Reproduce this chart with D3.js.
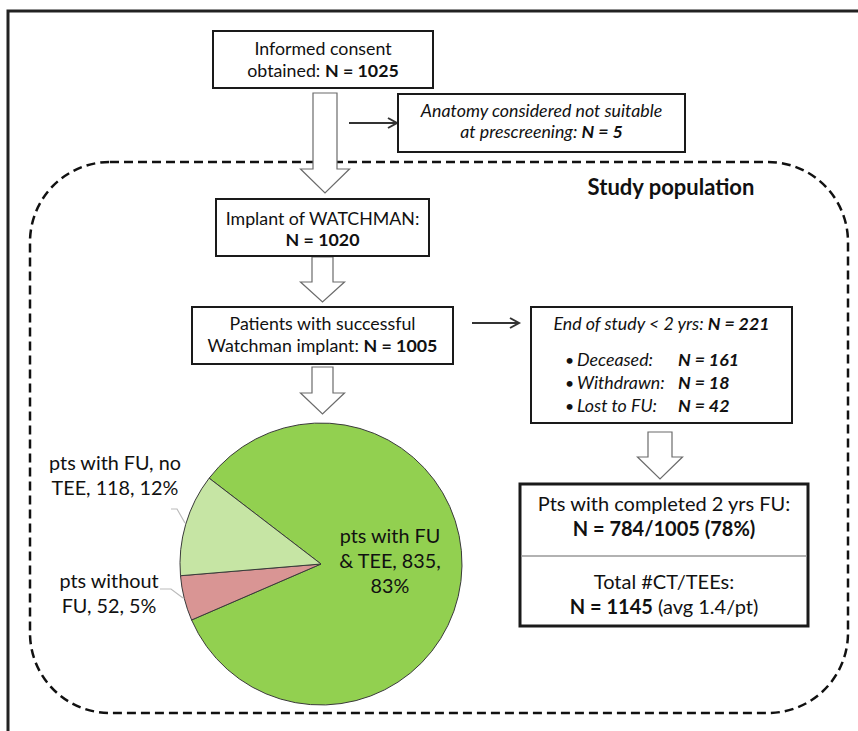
<!DOCTYPE html>
<html>
<head>
<meta charset="utf-8">
<script src="https://cdn.jsdelivr.net/npm/d3@7"></script>
<style>
  body { margin: 0; background: #fff; }
  svg { display: block; font-family: Lato, "Open Sans", sans-serif; }
</style>
</head>
<body>
<div id="wrapper"></div>
<script>
// flow steps (text runs: b = bold, i = italic)
const consentLines = [[{t: "Informed consent"}], [{t: "obtained: "}, {t: "N = 1025", b: true}]]
const excludedLines = [[{t: "Anatomy considered not suitable", i: true}], [{t: "at prescreening: ", i: true}, {t: "N = 5", b: true, i: true}]]
const implantLines = [[{t: "Implant of WATCHMAN:"}], [{t: "N = 1020", b: true}]]
const successLines = [[{t: "Patients with successful"}], [{t: "Watchman implant: "}, {t: "N = 1005", b: true}]]
const endTitle = [{t: "End of study < 2 yrs: ", i: true}, {t: "N = 221", b: true, i: true}]
const endReasons = ["Deceased:", "Withdrawn:", "Lost to FU:"]
const endCounts = [161, 18, 42]
const completedLines = [[{t: "Pts with completed 2 yrs FU:"}], [{t: "N = 784/1005 (78%)", b: true}]]
const totalLines = [[{t: "Total #CT/TEEs:"}], [{t: "N = 1145", b: true}, {t: " (avg 1.4/pt)"}]]
const groupTitle = "Study population"

// pie data
const pieCategories = ["pts with FU & TEE", "pts without FU", "pts with FU, no TEE"]
const pieValues = [835, 52, 118]
const piePercents = ["83%", "5%", "12%"]
const pieColors = ["#92d050", "#d99594", "#c6e5a4"]

const width = 858
const height = 731
const boxFont = 17.8
const bigFont = 20
const pieFont = 19.8

const svg = d3.select("#wrapper")
  .append("svg")
    .attr("width", width)
    .attr("height", height)

// outer frame (only top & left edges fall inside the picture)
svg.append("path")
    .attr("d", `M8,${height} L8,11 L${width},11`)
    .attr("fill", "none")
    .attr("stroke", "#222")
    .attr("stroke-width", 3)

// dashed study population outline
svg.append("rect")
    .attr("x", 30).attr("y", 162)
    .attr("width", 818).attr("height", 551)
    .attr("rx", 80).attr("ry", 80)
    .attr("fill", "none")
    .attr("stroke", "#111")
    .attr("stroke-width", 2.5)
    .attr("stroke-dasharray", "9,5")

svg.append("text")
    .attr("x", 671).attr("y", 195)
    .attr("text-anchor", "middle")
    .attr("font-size", 22)
    .attr("font-weight", "bold")
    .attr("fill", "#111")
    .text(groupTitle)

function writeLine(g, runs, x, y, size, anchor = "middle") {
  const t = g.append("text")
      .attr("x", x).attr("y", y)
      .attr("text-anchor", anchor)
      .attr("font-size", size)
      .attr("fill", "#111")
  runs.forEach(r => {
    t.append("tspan")
        .attr("font-weight", r.b ? "bold" : null)
        .attr("font-style", r.i ? "italic" : null)
        .text(r.t)
  })
  return t
}

function drawBox(box, lines, size, lineGap, firstBaseline, strokeW = 2) {
  const g = svg.append("g")
  g.append("rect")
      .attr("x", box[0]).attr("y", box[1])
      .attr("width", box[2] - box[0]).attr("height", box[3] - box[1])
      .attr("fill", "#fff")
      .attr("stroke", "#1a1a1a")
      .attr("stroke-width", strokeW)
  const cx = (box[0] + box[2]) / 2
  lines.forEach((runs, i) => writeLine(g, runs, cx, firstBaseline + i * lineGap, size))
  return g
}

// hollow block arrow pointing down
function blockArrow(cx, top, shaftHalf, shaftEnd, headHalf, tip) {
  const pts = [
    [cx - shaftHalf, top], [cx + shaftHalf, top], [cx + shaftHalf, shaftEnd],
    [cx + headHalf, shaftEnd], [cx, tip], [cx - headHalf, shaftEnd],
    [cx - shaftHalf, shaftEnd],
  ]
  svg.append("path")
      .attr("d", d3.line()(pts) + "Z")
      .attr("fill", "#fff")
      .attr("stroke", "#6b6b6b")
      .attr("stroke-width", 1.2)
}

// thin arrow pointing right
function lineArrow(x1, x2, y) {
  svg.append("path")
      .attr("d", `M${x1},${y} L${x2},${y} M${x2 - 9},${y - 5} L${x2},${y} L${x2 - 9},${y + 5}`)
      .attr("fill", "none")
      .attr("stroke", "#333")
      .attr("stroke-width", 2)
}

blockArrow(325, 93, 12, 169, 24.5, 193)
blockArrow(322.5, 257, 10.5, 282, 22, 302)
blockArrow(322.5, 367, 10.5, 393, 22, 414)
blockArrow(660, 432, 12, 457, 22.5, 479)

lineArrow(349, 397, 123)
lineArrow(472, 519, 323)

drawBox([213, 31, 433, 88], consentLines, boxFont, 22, 55)
drawBox([398, 94, 685, 152], excludedLines, boxFont, 21, 117)
drawBox([216, 199, 429, 256], implantLines, boxFont, 21, 225)
drawBox([192, 307, 453, 364], successLines, boxFont, 22, 330)

// end of study box
const endBox = drawBox([531, 307, 792, 423], [endTitle], boxFont, 0, 330)
endReasons.forEach((reason, i) => {
  const y = 366 + i * 23
  endBox.append("text")
      .attr("x", 565).attr("y", y)
      .attr("font-size", boxFont - 2)
      .attr("fill", "#111")
      .text("•")
  endBox.append("text")
      .attr("x", 577).attr("y", y)
      .attr("font-size", boxFont)
      .attr("font-style", "italic")
      .attr("fill", "#111")
      .text(reason)
  endBox.append("text")
      .attr("x", 678).attr("y", y)
      .attr("font-size", boxFont)
      .attr("font-style", "italic")
      .attr("font-weight", "bold")
      .attr("fill", "#111")
      .text(`N = ${endCounts[i]}`)
})

// completed FU box with divider
const fuBox = drawBox([520, 484, 808, 626], completedLines, bigFont, 25, 511, 3)
totalLines.forEach((runs, i) => writeLine(fuBox, runs, 664, 589 + i * 25, bigFont))
fuBox.append("line")
    .attr("x1", 521).attr("x2", 807)
    .attr("y1", 556).attr("y2", 556)
    .attr("stroke", "#999")
    .attr("stroke-width", 1.5)

// pie chart
const pieCenter = [321, 564]
const radius = 141
const pie = d3.pie()
    .sort(null)
    .startAngle(307.5 * Math.PI / 180)
    .endAngle(307.5 * Math.PI / 180 + 2 * Math.PI)
const arc = d3.arc().innerRadius(0).outerRadius(radius)
const arcs = pie(pieValues)

const pieG = svg.append("g")
    .attr("transform", `translate(${pieCenter})`)

pieG.selectAll("path")
  .data(arcs)
  .join("path")
    .attr("d", arc)
    .attr("fill", (d, i) => pieColors[i])
    .attr("stroke", "#3a3a3a")
    .attr("stroke-width", 1)

// labels: position of label block, wrap width, leader line points
const labelLayout = [
  {x: 390, y: 543, wrap: 112, leader: null},
  {x: 109, y: 588, wrap: 115, leader: [[160, 589], [171, 589], [183, 598]]},
  {x: 115, y: 470, wrap: 152, leader: [[171, 509], [177, 509], [185, 523]]},
]

function wrapWords(words, maxWidth, size) {
  const probe = svg.append("text").attr("font-size", size)
  const lines = []
  let cur = ""
  words.forEach(w => {
    const test = cur ? cur + " " + w : w
    probe.text(test)
    if (cur && probe.node().getComputedTextLength() > maxWidth) {
      lines.push(cur)
      cur = w
    } else {
      cur = test
    }
  })
  if (cur) lines.push(cur)
  probe.remove()
  return lines
}

arcs.forEach((d, i) => {
  const lay = labelLayout[i]
  const label = `${pieCategories[i]}, ${pieValues[i]}, ${piePercents[i]}`
  const lines = wrapWords(label.split(" "), lay.wrap, pieFont)
  lines.forEach((ln, j) => {
    svg.append("text")
        .attr("x", lay.x).attr("y", lay.y + j * 25)
        .attr("text-anchor", "middle")
        .attr("font-size", pieFont)
        .attr("fill", "#111")
        .text(ln)
  })
  if (lay.leader) {
    svg.append("path")
        .attr("d", d3.line()(lay.leader))
        .attr("fill", "none")
        .attr("stroke", "#bbb")
        .attr("stroke-width", 1.2)
  }
})
</script>
</body>
</html>
